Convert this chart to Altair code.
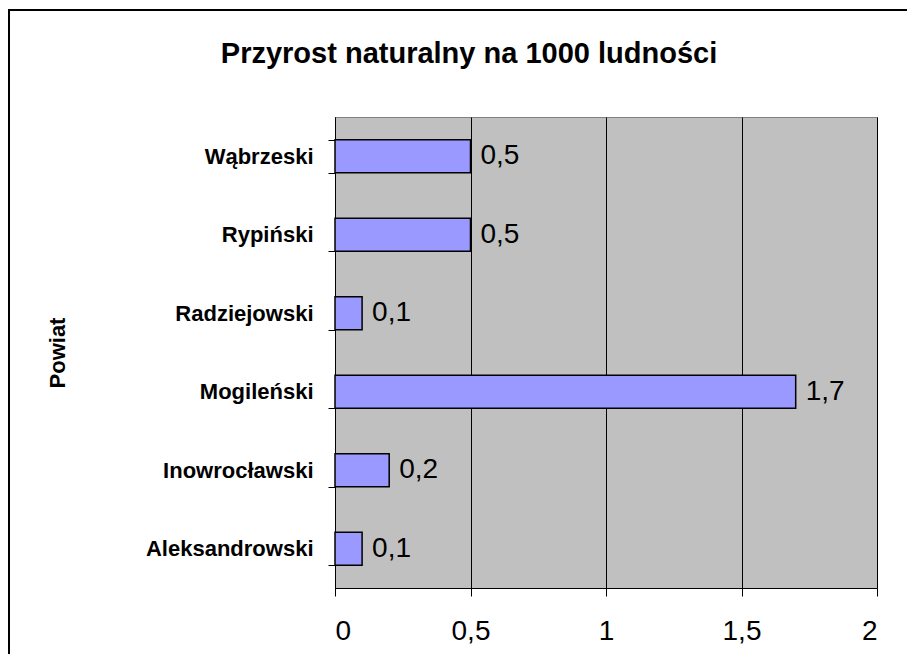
import altair as alt
import pandas as pd

# Data
powiaty = ["Wąbrzeski", "Rypiński", "Radziejowski", "Mogileński", "Inowrocławski", "Aleksandrowski"]
wartosci = [0.5, 0.5, 0.1, 1.7, 0.2, 0.1]
x_ticks = [0, 0.5, 1, 1.5, 2]
tytul = "Przyrost naturalny na 1000 ludności"

df = pd.DataFrame({"Powiat": powiaty, "Przyrost": wartosci})

FONT = "Liberation Sans"

y_enc = alt.Y(
    "Powiat:N", sort=powiaty, title="Powiat",
    scale=alt.Scale(paddingInner=0.58, paddingOuter=0.29),
    axis=alt.Axis(
        labelFont=FONT, labelFontSize=22, labelFontWeight="bold", labelColor="black",
        labelPadding=15, tickBand="extent", tickSize=7, tickColor="black", tickWidth=1,
        domainColor="black", domainWidth=1, grid=False,
        titleFont=FONT, titleFontSize=22, titleFontWeight="bold", titleColor="black",
        titleAngle=270, titleX=-271, titleY=235.5, titleBaseline="alphabetic", titleAlign="center",
    ),
)
x_enc = alt.X(
    "Przyrost:Q", title=None, scale=alt.Scale(domain=[0, 2], nice=False),
    axis=alt.Axis(
        values=x_ticks, labelExpr="replace(format(datum.value, '.1~f'), '.', ',')",
        labelFont=FONT, labelFontSize=28, labelColor="black", labelPadding=21,
        tickSize=8, tickColor="black", domainColor="black",
        grid=True, gridColor="black", gridWidth=1, gridOpacity=1,
    ),
)

base = alt.Chart(df)

bars = base.mark_bar(fill="#9999FF", stroke="black", strokeWidth=1.5).encode(x=x_enc, y=y_enc)

labels = base.transform_calculate(
    label="replace(format(datum.Przyrost, '.1f'), '.', ',')"
).mark_text(
    align="left", baseline="middle", dx=10, font=FONT, fontSize=28, color="black"
).encode(
    x="Przyrost:Q", y=alt.Y("Powiat:N", sort=powiaty), text="label:N"
)

# outer chart frame (top and left edges; the others lie outside the picture)
frame_src = alt.Chart(pd.DataFrame({"a": [0]}))
frame_top = frame_src.mark_rule(stroke="black", strokeWidth=2).encode(
    x=alt.value(-326), x2=alt.value(700), y=alt.value(-107)
)
frame_left = frame_src.mark_rule(stroke="black", strokeWidth=2).encode(
    x=alt.value(-326), y=alt.value(-108), y2=alt.value(700)
)

chart = alt.layer(frame_top, frame_left, bars, labels).properties(
    width=542, height=471,
    padding={"left": 327, "top": 109, "right": 30, "bottom": 66},
    autosize=alt.AutoSizeParams(type="none"),
    title=alt.TitleParams(
        tytul, font=FONT, fontSize=29, fontWeight="bold", color="black",
        anchor="middle", frame="group", dx=-137, baseline="alphabetic", offset=-84,
    ),
    background="white",
).configure_view(
    fill="#C0C0C0", stroke="#808080", strokeWidth=1
)

chart.save("out.html", embed_options={"renderer": "svg", "actions": False})
